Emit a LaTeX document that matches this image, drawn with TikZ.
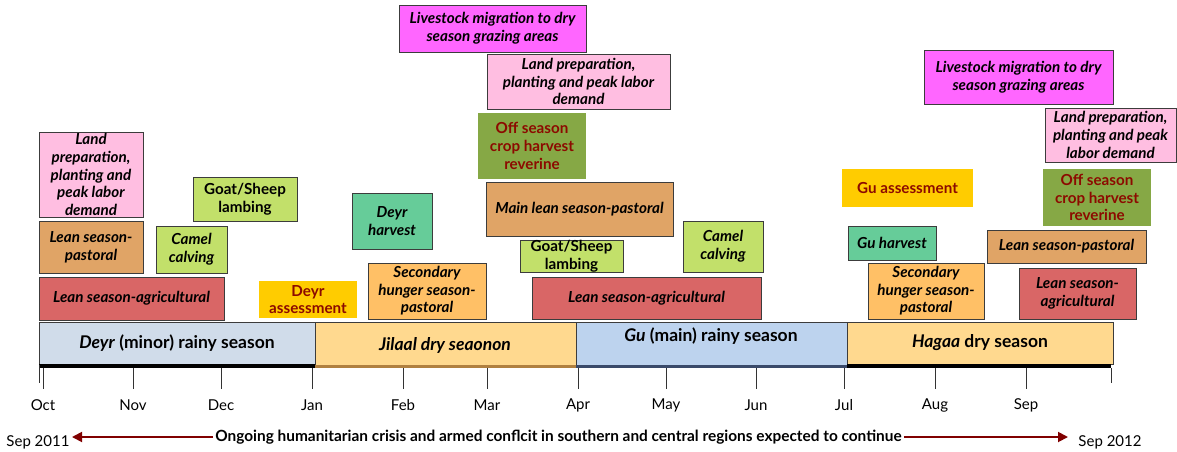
\documentclass[tikz,border=0pt]{standalone}
\usepackage{fontspec}
\setmainfont{Lato}
\usetikzlibrary{arrows.meta}
\definecolor{cPink}{RGB}{255,190,225}
\definecolor{cTan}{RGB}{224,164,102}
\definecolor{cLime}{RGB}{194,224,106}
\definecolor{cRed}{RGB}{217,102,102}
\definecolor{cYellow}{RGB}{255,204,0}
\definecolor{cMagenta}{RGB}{255,102,255}
\definecolor{cOlive}{RGB}{134,168,69}
\definecolor{cGreen}{RGB}{102,204,153}
\definecolor{cOrange}{RGB}{255,192,102}
\definecolor{cDeyr}{RGB}{208,220,234}
\definecolor{cDry}{RGB}{255,217,143}
\definecolor{cGu}{RGB}{189,211,238}
\definecolor{cDarkRed}{RGB}{140,10,0}
\definecolor{cArrow}{RGB}{128,0,0}
\definecolor{cBorder}{RGB}{60,60,60}
\definecolor{cBrown}{RGB}{176,128,64}
\definecolor{cSlate}{RGB}{58,74,106}
\newcommand\boxfont{\fontsize{15.2}{17.6}\selectfont}
\newcommand\mkbox[7]{\node[#6, minimum width={(#4-#2)*1pt}, minimum height={(#5-#3)*1pt}] (#1) at ({(#2+#4)/2},{(#3+#5)/2}) {#7};}
\begin{document}
\begin{tikzpicture}[x=1pt,y=-1pt,
  box/.style={draw=cBorder, line width=0.9pt, inner sep=0pt, outer sep=0pt, align=center, font=\boxfont\bfseries\itshape},
  upbox/.style={box, font=\boxfont\bfseries},
  plainbox/.style={box, draw=none, font=\boxfont\bfseries, text=cDarkRed},
  season/.style={draw=cBorder, line width=0.9pt, inner sep=0pt, outer sep=0pt, align=center, font=\fontsize{17.5}{20}\selectfont\bfseries},
  stext/.style={inner sep=0pt, font=\fontsize{17.5}{20}\selectfont\bfseries},
  month/.style={inner sep=0pt, font=\fontsize{15}{18}\selectfont},
  tick/.style={line width=0.8pt, draw=black!80},
  redarrow/.style={draw=cArrow, line width=1.8pt, -{Triangle[length=10pt,width=10pt]}},
]
\useasboundingbox (0,0) rectangle (1177,452);

% activity boxes
\mkbox{landA}{39}{132}{143}{217}{box, fill=cPink}{Land\\preparation,\\planting and\\peak labor\\demand}
\mkbox{leanPastA}{39}{221}{143}{273}{box, fill=cTan}{Lean season-\\pastoral}
\mkbox{camelA}{156}{226}{227}{273}{box, fill=cLime}{Camel\\calving}
\mkbox{goatA}{193}{177}{297}{221}{upbox, fill=cLime}{Goat/Sheep\\lambing}
\mkbox{leanAgA}{39}{277}{224}{320}{box, fill=cRed}{Lean season-agricultural}
\mkbox{deyrAss}{259}{281}{357}{318}{plainbox, fill=cYellow}{Deyr\\assessment}
\mkbox{deyrHarv}{352}{193}{432}{249}{box, fill=cGreen}{Deyr\\harvest}
\mkbox{secA}{368}{263}{486}{319}{box, fill=cOrange}{Secondary\\hunger season-\\pastoral}
\mkbox{liveA}{399}{5}{586}{52}{box, fill=cMagenta}{Livestock migration to dry\\season grazing areas}
\mkbox{landB}{487}{54}{670}{109}{box, fill=cPink}{Land preparation,\\planting and peak labor\\demand}
\mkbox{offA}{478}{113}{586}{179}{plainbox, fill=cOlive}{Off season\\crop harvest\\reverine}
\mkbox{mainLean}{486}{182}{673}{236}{box, fill=cTan}{Main lean season-pastoral}
\mkbox{goatB}{520}{240}{623}{272}{upbox, fill=cLime}{Goat/Sheep\\lambing}
\mkbox{leanAgB}{532}{277}{761}{319}{box, fill=cRed}{Lean season-agricultural}
\mkbox{camelB}{683}{221}{763}{272}{box, fill=cLime}{Camel\\calving}
\mkbox{liveB}{924}{50}{1113}{104}{box, fill=cMagenta}{Livestock migration to dry\\season grazing areas}
\mkbox{landC}{1045}{108}{1176}{162}{box, fill=cPink}{Land preparation,\\planting and peak\\labor demand}
\mkbox{guAss}{842}{169}{973}{207}{plainbox, fill=cYellow}{Gu assessment}
\mkbox{offB}{1043}{169}{1151}{226}{plainbox, fill=cOlive}{Off season\\crop harvest\\reverine}
\mkbox{guHarv}{848}{226}{936}{260}{box, fill=cGreen}{Gu harvest}
\mkbox{secB}{868}{263}{984}{319}{box, fill=cOrange}{Secondary\\hunger season-\\pastoral}
\mkbox{leanPastB}{987}{230}{1146}{263}{box, fill=cTan}{Lean season-pastoral}
\mkbox{leanAgC}{1019}{268}{1136}{319}{box, fill=cRed}{Lean season-\\agricultural}

% season bars
\mkbox{deyrBar}{39}{322}{315}{364}{season, fill=cDeyr}{}
\mkbox{jilaalBar}{315}{322}{576}{366}{season, fill=cDry}{}
\mkbox{guBar}{576}{322}{847}{366}{season, fill=cGu}{}
\mkbox{hagaaBar}{847}{322}{1113}{364}{season, fill=cDry}{}
\node[stext] (deyrText) at (177,343) {\textit{Deyr} (minor) rainy season};
\node[stext] (jilaalText) at (445,345) {\textit{Jilaal dry seaonon}};
\node[stext] (guText) at (711,336) {\textit{Gu} (main) rainy season};
\node[stext] (hagaaText) at (980,343) {\textit{Hagaa} dry season};

% base line under the bars
\draw[line width=4pt, black] (39,366) -- (315,366);
\draw[line width=3pt, cBrown] (315,366.5) -- (576,366.5);
\draw[line width=3pt, cSlate] (576,366.5) -- (847,366.5);
\draw[line width=4pt, black] (847,366) -- (1111,366);

% ticks and months
\foreach \x/\m [count=\i] in {43/Oct,133/Nov,221/Dec,312/Jan,403/Feb,487/Mar,578/Apr,666/May,756/Jun,844/Jul,935/Aug,1026/Sep} {
  \coordinate (t\i) at (\x,368);
  \draw[tick] (t\i) -- ++(0,21);
  \node[month] (m\i) at (\x,405) {\m};
}
\coordinate (tStart) at (39,365);
\draw[tick] (tStart) -- ++(0,18);
\coordinate (tEnd) at (1111,368);
\draw[tick] (tEnd) -- ++(0,15);

% bottom line
\node[inner sep=2pt, font=\fontsize{15.4}{18}\selectfont\bfseries] (ongoing) at (558.5,437) {Ongoing humanitarian crisis and armed conflcit in southern and central regions expected to continue};
\node[month] (sep11) at (38,442) {Sep 2011};
\node[month] (sep12) at (1110,442) {Sep 2012};
\coordinate (leftEnd) at (72,437);
\coordinate (rightEnd) at (1068,437);
\draw[redarrow] (ongoing.west) -- (leftEnd);
\draw[redarrow] (ongoing.east) -- (rightEnd);
\end{tikzpicture}
\end{document}
